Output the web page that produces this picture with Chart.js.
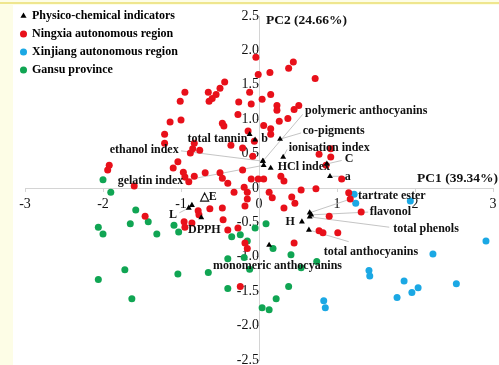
<!DOCTYPE html>
<html>
<head>
<meta charset="utf-8">
<script src="https://cdn.jsdelivr.net/npm/chart.js@4.4.1/dist/chart.umd.min.js"></script>
<style>
  html, body { margin: 0; padding: 0; background: #fdfde6; }
  #wrap { width: 499px; height: 365px; }
</style>
</head>
<body>
<div id="wrap"><canvas id="pcaChart" width="499" height="365"></canvas></div>
<script>
// PC1 / PC2 scores
const ningxiaX = [-0.04, 0.44, 0.38, 0.14, -0.01, 0.72, -0.44, -0.50, -0.65, -0.95, -0.55, -0.60, -0.64, -1.01, -0.26, -0.12, -0.10,
  0.15, 0.04, 0.23, 0.23, 0.51, 0.45, 0.37, 0.26, -0.27, -0.47, -0.45, -1.00, -1.14, -0.14, 0.06, 0.15, 0.15, -0.36, -0.21,
  -0.06, -0.85, -1.21, -1.21, 0.77, 0.92, 0.92, 0.86, 1.06, -0.01, 0.06, -0.10, 0.28, 0.32, 0.13, 0.17, 0.54, 0.73, 0.42,
  0.46, 0.32, 1.15, 1.17, 1.31, 0.90, 0.77, 0.82, 1.01, 0.45, -0.88, -0.83, -0.76, -1.04, -1.10, -0.97, -0.95, -0.90, -0.83,
  -0.69, -0.50, -0.47, -0.40, -0.32, -0.19, -0.15, -0.15, -0.21, -0.08, -0.78, -0.77, -0.63, -0.47, -0.96, -0.86, -0.95,
  -0.46, -0.40, -0.27, -0.18, -0.15, -0.18, -1.92, -1.94, -1.60, -1.46, -0.24];
const ningxiaY = [1.90, 1.83, 1.74, 1.68, 1.65, 1.59, 1.54, 1.45, 1.39, 1.39, 1.36, 1.30, 1.26, 1.26, 1.25, 1.39, 1.22,
  1.36, 1.29, 1.20, 1.13, 1.20, 1.14, 1.01, 0.97, 1.07, 0.94, 0.90, 0.99, 0.96, 0.83, 0.91, 0.86, 0.78, 0.62, 0.58,
  0.68, 0.57, 0.65, 0.78, 0.49, 0.57, 0.45, 0.33, 0.13, 0.13, 0.13, 0.13, 0.17, 0.10, -0.06, -0.14, -0.03, -0.01, -0.13,
  -0.22, -0.29, -0.07, -0.16, -0.35, -0.41, -0.62, -0.65, -0.65, -0.80, 0.51, 0.65, 0.55, 0.38, 0.29, 0.23, 0.16, 0.09, 0.17,
  0.22, 0.22, 0.14, 0.07, -0.06, 0.01, -0.06, -0.16, 0.26, 0.46, -0.33, -0.39, -0.30, -0.29, -0.49, -0.51, -0.57,
  -0.46, -0.61, -0.58, -0.26, -0.88, -0.80, 0.33, 0.26, 0.03, -0.41, -1.43];

const xinjiangX = [1.22, 1.24, 1.94, 2.91, 2.23, 1.41, 1.42, 1.86, 2.04, 1.96, 1.77, 2.53, 0.83, 0.85];
const xinjiangY = [-0.09, -0.22, -0.19, -0.77, -0.96, -1.20, -1.28, -1.35, -1.45, -1.52, -1.59, -1.39, -1.64, -1.74];

const gansuX = [-2.00, -1.90, -1.58, -1.42, -1.65, -2.06, -2.00, -1.31, -1.09, -1.03, -0.35, -0.24, -0.15, -0.05, 0.09,
  -0.40, -0.19, 0.18, 0.41, 0.74, 0.54, -0.12, 0.38, 0.22, 0.04, 0.13, -1.72, -2.06, -1.63, -1.04, -0.65, -0.40];
const gansuY = [0.12, -0.06, -0.32, -0.49, -0.52, -0.57, -0.67, -0.67, -0.54, -0.64, -0.71, -0.68, -0.77, -0.58, -0.52,
  -1.03, -1.01, -0.88, -0.97, -1.07, -1.16, -1.18, -1.43, -1.61, -1.74, -1.77, -1.19, -1.33, -1.61, -1.25, -1.23, -1.46];

// physico-chemical indicators (loadings)
const indicatorNames = ['total tannin', 'b', 'polymeric anthocyanins', 'co-pigments', 'ionisation index', 'HCl index',
  'C', 'a', 'ethanol index', 'gelatin index', '△E', 'L', 'DPPH', 'H', 'tartrate ester', 'flavonol', 'total phenols',
  'total anthocyanins', 'monomeric anthocyanins'];
const indicatorX = [-0.12, -0.05, 0.05, 0.27, 0.31, 0.15, 0.87, 0.91, 0.05, 0.06, -0.86, -0.90, -0.74, 0.55, 0.65, 0.67, 0.65, 0.64, 0.13];
const indicatorY = [0.78, 0.70, 0.39, 0.71, 0.45, 0.29, 0.35, 0.17, 0.39, 0.33, -0.25, -0.29, -0.43, -0.49, -0.36, -0.39, -0.42, -0.61, -0.83];

const xTicks = [-3, -2, -1, 0, 1, 2, 3];
const yTicks = [-2.5, -2, -1.5, -1, -0.5, 0, 0.5, 1, 1.5, 2, 2.5];

// where each indicator name sits (axis units), and where its leader line ends
const labelAnchors = [
  {x: -0.15, y: 0.72, align: 'right'},
  {x: 0.03, y: 0.71, align: 'left'},
  {x: 0.59, y: 1.12, align: 'left', lx: 0.56, ly: 1.07},
  {x: 0.56, y: 0.83, align: 'left', lx: 0.54, ly: 0.80},
  {x: 0.38, y: 0.59, align: 'left', lx: 0.36, ly: 0.56},
  {x: 0.24, y: 0.30, align: 'left'},
  {x: 1.10, y: 0.42, align: 'left', lx: 1.06, ly: 0.40},
  {x: 1.10, y: 0.16, align: 'left', lx: 1.06, ly: 0.17},
  {x: -1.03, y: 0.55, align: 'right', lx: -1.00, ly: 0.54},
  {x: -0.97, y: 0.10, align: 'right', lx: -0.96, ly: 0.11},
  {x: -0.76, y: -0.13, align: 'left'},
  {x: -1.05, y: -0.39, align: 'right', lx: -1.02, ly: -0.36},
  {x: -0.91, y: -0.61, align: 'left'},
  {x: 0.46, y: -0.49, align: 'right'},
  {x: 1.27, y: -0.12, align: 'left', lx: 1.20, ly: -0.15},
  {x: 1.42, y: -0.35, align: 'left', lx: 1.40, ly: -0.35},
  {x: 1.72, y: -0.59, align: 'left', lx: 1.67, ly: -0.57},
  {x: 0.83, y: -0.93, align: 'left', lx: 1.15, ly: -0.78},
  {x: -0.59, y: -1.13, align: 'left'}
];

const toPoints = (xs, ys) => xs.map((v, i) => ({x: v, y: ys[i]}));

const leaderPoints = [];
labelAnchors.forEach((a, i) => {
  if (a.lx === undefined) return;
  leaderPoints.push({x: indicatorX[i], y: indicatorY[i]}, {x: a.lx, y: a.ly}, {x: null, y: null});
});

const serif = '"Liberation Serif", "Times New Roman", serif';

const pageBackground = {
  id: 'pageBackground',
  beforeDraw(chart) {
    const {ctx, width, height} = chart;
    ctx.save();
    ctx.fillStyle = '#fdfde6';
    ctx.fillRect(0, 0, width, height);
    ctx.fillStyle = '#ffffff';
    ctx.fillRect(13, 5, width - 13, height - 5);
    ctx.strokeStyle = '#efe68e';
    ctx.lineWidth = 2;
    ctx.beginPath();
    ctx.moveTo(0, 3);
    ctx.lineTo(width, 3);
    ctx.stroke();
    ctx.restore();
  }
};

// nudge the legend box into the top-left corner like the original
const legendNudge = {
  id: 'legendNudge',
  afterLayout(chart) {
    const lg = chart.legend;
    if (!lg) return;
    lg.left -= 10; lg.right -= 10;
    lg.top += 4; lg.bottom += 4;
  }
};

const indicatorLabels = {
  id: 'indicatorLabels',
  afterDatasetsDraw(chart) {
    const {ctx, chartArea} = chart;
    const xs = chart.scales.x, ys = chart.scales.y;
    ctx.save();
    ctx.fillStyle = '#111';
    ctx.textBaseline = 'middle';
    ctx.font = 'bold 12px ' + serif;
    indicatorNames.forEach((name, i) => {
      const a = labelAnchors[i];
      ctx.textAlign = a.align;
      ctx.fillText(name, xs.getPixelForValue(a.x), ys.getPixelForValue(a.y));
    });
    ctx.font = 'bold 13.5px ' + serif;
    ctx.textAlign = 'left';
    ctx.fillText('PC2 (24.66%)', xs.getPixelForValue(0) + 7, chartArea.top + 5);
    ctx.textAlign = 'right';
    ctx.fillText('PC1 (39.34%)', chartArea.right + 5, ys.getPixelForValue(0) - 9);
    ctx.restore();
  }
};

// axes sit inside the plot, so they should not push the plot edges in
const noEdgePadding = (scale) => {
  scale.paddingTop = 0;
  scale.paddingBottom = 0;
  scale.paddingLeft = 0;
  scale.paddingRight = 0;
};

new Chart(document.getElementById('pcaChart'), {
  type: 'scatter',
  data: {
    datasets: [
      {
        label: 'Physico-chemical indicators',
        data: toPoints(indicatorX, indicatorY),
        pointStyle: 'triangle',
        backgroundColor: '#000',
        borderColor: '#000',
        pointRadius: 3.4,
        borderWidth: 0
      },
      {
        label: 'Ningxia autonomous region',
        data: toPoints(ningxiaX, ningxiaY),
        backgroundColor: '#e8101a',
        borderColor: '#e8101a',
        pointRadius: 3.5,
        borderWidth: 0
      },
      {
        label: 'Xinjiang autonomous region',
        data: toPoints(xinjiangX, xinjiangY),
        backgroundColor: '#1ba8e4',
        borderColor: '#1ba8e4',
        pointRadius: 3.5,
        borderWidth: 0
      },
      {
        label: 'Gansu province',
        data: toPoints(gansuX, gansuY),
        backgroundColor: '#10a553',
        borderColor: '#10a553',
        pointRadius: 3.5,
        borderWidth: 0
      },
      {
        label: 'leaders',
        data: leaderPoints,
        showLine: true,
        spanGaps: false,
        pointRadius: 0,
        borderColor: '#b5b5b5',
        borderWidth: 0.8
      }
    ]
  },
  options: {
    responsive: false,
    animation: false,
    layout: { padding: { left: 25, right: 6, top: 16, bottom: 5 } },
    scales: {
      x: {
        type: 'linear',
        min: -3,
        max: 3,
        position: { y: 0 },
        afterBuildTicks: (scale) => { scale.ticks = xTicks.map(v => ({value: v})); },
        afterFit: noEdgePadding,
        grid: { drawOnChartArea: false, drawTicks: true, tickLength: 3, color: '#d4d4d4' },
        border: { color: '#d4d4d4', width: 1 },
        ticks: { color: '#111', padding: 5, font: { family: serif, size: 14 } }
      },
      y: {
        type: 'linear',
        min: -2.5,
        max: 2.5,
        position: { x: 0 },
        afterBuildTicks: (scale) => { scale.ticks = yTicks.map(v => ({value: v})); },
        afterFit: noEdgePadding,
        grid: { drawOnChartArea: false, drawTicks: true, tickLength: 3, color: '#d4d4d4' },
        border: { color: '#d4d4d4', width: 1 },
        ticks: { color: '#111', padding: 6, font: { family: serif, size: 14 } }
      }
    },
    plugins: {
      tooltip: { enabled: false },
      legend: {
        position: 'chartArea',
        align: 'start',
        labels: {
          usePointStyle: true,
          boxWidth: 5,
          boxHeight: 5,
          padding: 6,
          color: '#000',
          font: { family: serif, size: 12, weight: 'bold' },
          filter: item => item.datasetIndex < 4
        }
      }
    }
  },
  plugins: [pageBackground, legendNudge, indicatorLabels]
});
</script>
</body>
</html>
